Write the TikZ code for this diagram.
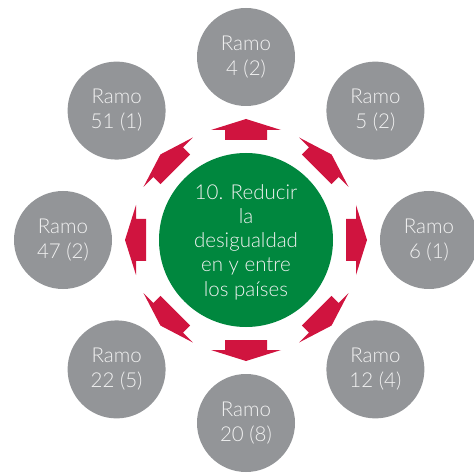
\documentclass[tikz,border=0pt]{standalone}
\usepackage{fontspec}
\IfFontExistsTF{Lato Light}{\setmainfont{Lato Light}}{\setmainfont{Lato}}
\definecolor{sdggreen}{HTML}{00873E}
\definecolor{sdgred}{HTML}{D0143F}
\definecolor{ramogrey}{HTML}{939598}
\definecolor{txtlight}{HTML}{F2F2F2}
\begin{document}
\begin{tikzpicture}[x=1pt,y=-1pt,
  ramo/.style={circle, fill=ramogrey, minimum size=98pt, inner sep=0pt,
    text=txtlight, align=center, font=\fontsize{20.5}{25}\selectfont},
  goalbox/.style={circle, fill=sdggreen, minimum size=174pt, inner sep=0pt},
  goaltxt/.style={text=txtlight, align=center, font=\fontsize{20.5}{24.3}\selectfont},
  outarrow/.style={fill=sdgred, draw=none}]
\useasboundingbox (0,0) rectangle (474,473);
\node[goalbox] (goal) at (246,240) {};
\node[goaltxt] (goaltext) at (246,242) {10. Reducir\\la\\desigualdad\\en y entre\\los países};
\foreach \a in {0,45,...,315}
  \fill[outarrow, shift={(goal.center)}, rotate=\a]
    (100,-21) -- (110,-21) -- (110,-35) -- (121,0) -- (110,35) -- (110,21) -- (100,21) -- cycle;
\node[ramo] (r4)  at (246,57)      {Ramo\\4 (2)};
\node[ramo] (r5)  at (375.4,110.6) {Ramo\\5 (2)};
\node[ramo] (r6)  at (429,240)     {Ramo\\6 (1)};
\node[ramo] (r12) at (375.4,369.4) {Ramo\\12 (4)};
\node[ramo] (r20) at (246,423)     {Ramo\\20 (8)};
\node[ramo] (r22) at (116.6,369.4) {Ramo\\22 (5)};
\node[ramo] (r47) at (63,240)      {Ramo\\47 (2)};
\node[ramo] (r51) at (116.6,110.6) {Ramo\\51 (1)};
\end{tikzpicture}
\end{document}
